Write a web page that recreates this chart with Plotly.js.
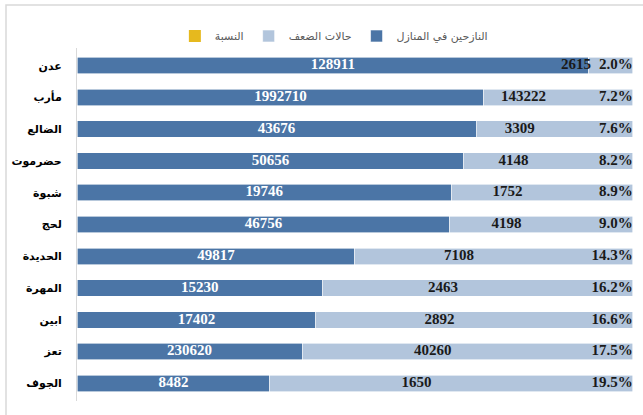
<!DOCTYPE html>
<html>
<head>
<meta charset="utf-8">
<script src="https://cdn.plot.ly/plotly-3.0.1.min.js"></script>
<style>html,body{margin:0;padding:0;background:#fff;}#chart{width:643px;height:415px;}</style>
</head>
<body>
<div id="chart"></div>
<script>
// Categories, top to bottom
const governorates = ['عدن','مأرب','الضالع','حضرموت','شبوة','لحج','الحديدة','المهرة','ابين','تعز','الجوف'];
// Labels shown on bars
const displacedCounts = [128911, 1992710, 43676, 50656, 19746, 46756, 49817, 15230, 17402, 230620, 8482];
const vulnerableCounts = [2615, 143222, 3309, 4148, 1752, 4198, 7108, 2463, 2892, 40260, 1650];
const ratio = [0.020, 0.072, 0.076, 0.082, 0.089, 0.090, 0.143, 0.162, 0.166, 0.175, 0.195];
// Bar lengths (100% stacked shares)
const displacedShare = [92.1, 73.2, 71.8, 69.6, 67.4, 67.1, 50.0, 44.2, 43.0, 40.5, 34.7];
const vulnerableShare = [7.9, 26.8, 28.2, 30.4, 32.6, 32.9, 50.0, 55.8, 57.0, 59.5, 65.3];

const DARK = '#4b75a6', LIGHT = '#b2c5dc', YELLOW = '#e6b91e';
const numFont = {family: '"Liberation Serif", "DejaVu Serif", serif', size: 15};

const totals = displacedShare.map((d, i) => d + vulnerableShare[i]);

const traces = [
  {type: 'bar', orientation: 'h', name: 'النازحين في المنازل', y: governorates, x: displacedShare,
   marker: {color: DARK, line: {color: '#ffffff', width: 0.6}}, hoverinfo: 'skip'},
  {type: 'bar', orientation: 'h', name: 'حالات الضعف', y: governorates, x: vulnerableShare,
   marker: {color: LIGHT, line: {color: '#ffffff', width: 0.6}}, hoverinfo: 'skip'},
  {type: 'bar', orientation: 'h', name: 'النسبة', y: governorates, x: ratio,
   marker: {color: YELLOW}, hoverinfo: 'skip'},
  // labels
  {type: 'scatter', mode: 'text', y: governorates, x: displacedShare.map(d => d / 2),
   text: displacedCounts.map(String), textposition: 'middle center',
   textfont: Object.assign({color: '#ffffff', weight: 'bold'}, numFont), showlegend: false, hoverinfo: 'skip'},
  {type: 'scatter', mode: 'text', y: governorates, x: displacedShare.map((d, i) => (d + totals[i] - 12.5) / 2),
   text: vulnerableCounts.map(String), textposition: 'middle center',
   textfont: Object.assign({color: '#1a1a1a', weight: 'bold'}, numFont), showlegend: false, hoverinfo: 'skip'},
  {type: 'scatter', mode: 'text', y: governorates, x: totals,
   text: ratio.map(r => (r * 100).toFixed(1) + '%'), textposition: 'middle left',
   textfont: Object.assign({color: '#1a1a1a', weight: 'bold'}, numFont), showlegend: false, hoverinfo: 'skip'}
];

const layout = {
  width: 643, height: 415,
  margin: {l: 77, r: 10, t: 48, b: 14, pad: 0, autoexpand: false},
  paper_bgcolor: '#ffffff', plot_bgcolor: '#ffffff',
  barmode: 'stack', bargap: 0.48,
  showlegend: true,
  legend: {orientation: 'h', traceorder: 'reversed', x: 0.462, xanchor: 'center', y: 1.034, yanchor: 'middle',
           font: {family: '"DejaVu Sans", sans-serif', size: 11, color: '#595959'}, itemwidth: 30,
           bgcolor: 'rgba(0,0,0,0)'},
  xaxis: {range: [0, 100.05], showgrid: false, zeroline: false, showticklabels: false, ticks: '', showline: false, fixedrange: true},
  yaxis: {type: 'category', autorange: 'reversed', showgrid: false, zeroline: false,
          showline: true, linecolor: '#d9d9d9', linewidth: 1, ticks: '', ticklabelstandoff: 12,
          tickfont: {family: '"DejaVu Sans", sans-serif', size: 11, color: '#000000', weight: 'bold'}},
  shapes: [{type: 'rect', xref: 'paper', yref: 'paper', x0: -0.1277, x1: 1.3, y0: 1.1218, y1: -0.3,
            line: {color: '#d9d9d9', width: 1.5}, fillcolor: 'rgba(0,0,0,0)', layer: 'below'}]
};

Plotly.newPlot('chart', traces, layout, {displayModeBar: false, staticPlot: true});
</script>
</body>
</html>
